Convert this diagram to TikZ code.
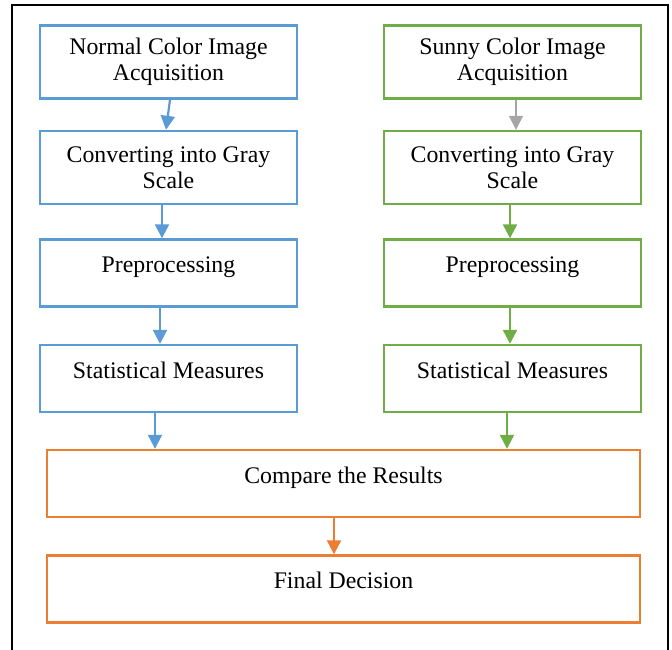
\documentclass[tikz,border=0pt]{standalone}
\usepackage{fontspec}
\setmainfont{Liberation Serif}
\usetikzlibrary{positioning, arrows.meta}
\definecolor{stepblue}{HTML}{5B9BD5}
\definecolor{stepgreen}{HTML}{70AD47}
\definecolor{steporange}{HTML}{ED7D31}
\definecolor{stepgray}{HTML}{A5A5A5}

\tikzset{
  stage/.style={draw, rectangle, line width=2.4pt, minimum width=257pt,
    minimum height=67pt, align=center, inner sep=0pt,
    font=\fontsize{23.8}{26.5}\selectfont},
  tall/.style={minimum height=73pt},
  lifted/.style={text height=15pt, text depth=16pt},
  wide/.style={minimum width=593pt},
  flow/.style={line width=2.2pt, -{Triangle[length=14pt,width=14pt]}}
}

\begin{document}
\begin{tikzpicture}[x=1pt, y=-1pt, node distance=105.5pt, on grid]
   \useasboundingbox (0,0) rectangle (672,650);
   \draw[line width=2.2pt] (12,650) -- (12,5) -- (668,5) -- (668,650);

   \node[stage, tall, stepblue] (n1) at (168.5,62) {\color{black}Normal Color Image\\\color{black}Acquisition};
   \node[stage, tall, stepblue, below=of n1] (n2) {\color{black}Converting into Gray\\\color{black}Scale};
   \node[stage, lifted, stepblue, below=of n2] (n3) {\color{black}Preprocessing};
   \node[stage, lifted, stepblue, below=of n3] (n4) {\color{black}Statistical Measures};

   \node[stage, tall, stepgreen] (s1) at (512.5,62) {\color{black}Sunny Color Image\\\color{black}Acquisition};
   \node[stage, tall, stepgreen, below=of s1] (s2) {\color{black}Converting into Gray\\\color{black}Scale};
   \node[stage, lifted, stepgreen, below=of s2] (s3) {\color{black}Preprocessing};
   \node[stage, lifted, stepgreen, below=of s3] (s4) {\color{black}Statistical Measures};

   \node[stage, lifted, wide, steporange] (cmp) at (343.5,483.5) {\color{black}Compare the Results};
   \node[stage, lifted, wide, steporange, below=of cmp] (dec) {\color{black}Final Decision};

   \draw[flow, stepblue] ([xshift=1.5pt]n1.south) -- ([xshift=-2.5pt]n2.north);
   \draw[flow, stepblue] ([xshift=-6.5pt]n2.south) -- ([xshift=-6.5pt]n3.north);
   \draw[flow, stepblue] ([xshift=-8.5pt]n3.south) -- ([xshift=-8.5pt]n4.north);
   \draw[flow, stepblue] ([xshift=-13.5pt]n4.south) -- ([xshift=-13.5pt]n4.south |- cmp.north);

   \draw[flow, stepgray, line width=1.3pt] ([xshift=3.5pt]s1.south) -- ([xshift=3.5pt]s2.north);
   \draw[flow, stepgreen] ([xshift=-2.5pt]s2.south) -- ([xshift=-2.5pt]s3.north);
   \draw[flow, stepgreen] ([xshift=-2.5pt]s3.south) -- ([xshift=-2.5pt]s4.north);
   \draw[flow, stepgreen] ([xshift=-5.5pt]s4.south) -- ([xshift=-5.5pt]s4.south |- cmp.north);

   \draw[flow, steporange] ([xshift=-9.5pt]cmp.south) -- ([xshift=-9.5pt]dec.north);
\end{tikzpicture}
\end{document}
